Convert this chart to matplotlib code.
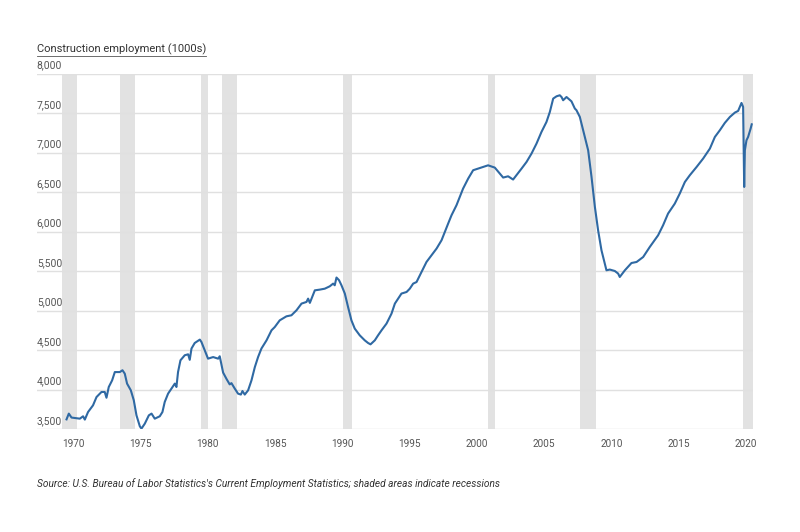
import matplotlib
matplotlib.use('Agg')
from matplotlib import pyplot as plt
from matplotlib import transforms
from matplotlib.lines import Line2D

plt.rcParams['font.family'] = ['Roboto', 'DejaVu Sans']

# construction employment, thousands
years = [1969.87, 1970.04, 1970.24, 1970.86, 1971.10, 1971.23, 1971.47, 1971.84,
         1972.10, 1972.47, 1972.71, 1972.84, 1973.01, 1973.26, 1973.46, 1973.83,
         1974.03, 1974.20, 1974.37, 1974.65, 1974.87, 1975.07, 1975.32, 1975.44,
         1975.69, 1975.99, 1976.19, 1976.43, 1976.80, 1977.00, 1977.17, 1977.42,
         1977.75, 1977.92, 1978.04, 1978.16, 1978.34, 1978.66, 1978.91, 1979.03,
         1979.16, 1979.40, 1979.78, 1979.90, 1980.15, 1980.39, 1980.77, 1981.14,
         1981.26, 1981.51, 1981.76, 1982.00, 1982.13, 1982.38, 1982.62, 1982.83,
         1982.95, 1983.12, 1983.37, 1983.62, 1983.87, 1984.11, 1984.36, 1984.74,
         1985.11, 1985.35, 1985.72, 1986.22, 1986.59, 1986.97, 1987.34, 1987.71,
         1987.83, 1987.96, 1988.33, 1988.70, 1989.07, 1989.44, 1989.69, 1989.81,
         1989.94, 1990.13, 1990.31, 1990.56, 1990.80, 1991.05, 1991.30, 1991.67,
         1992.04, 1992.29, 1992.47, 1992.79, 1993.03, 1993.29, 1993.66, 1994.03,
         1994.28, 1994.77, 1995.15, 1995.39, 1995.64, 1995.89, 1996.26, 1996.63,
         1997.00, 1997.38, 1997.75, 1997.99, 1998.24, 1998.49, 1998.86, 1999.11,
         1999.35, 1999.73, 2000.10, 2000.47, 2000.84, 2001.21, 2001.71, 2002.08,
         2002.33, 2002.70, 2003.07, 2003.32, 2003.70, 2004.07, 2004.44, 2004.81,
         2005.18, 2005.55, 2005.80, 2006.05, 2006.30, 2006.54, 2006.67, 2006.79,
         2007.04, 2007.41, 2007.66, 2007.78, 2008.03, 2008.28, 2008.65, 2008.90,
         2009.15, 2009.39, 2009.64, 2009.89, 2010.01, 2010.26, 2010.63, 2010.88,
         2011.00, 2011.38, 2011.87, 2012.25, 2012.74, 2013.23, 2013.85, 2014.22,
         2014.59, 2015.09, 2015.46, 2015.84, 2016.21, 2016.71, 2017.20, 2017.70,
         2018.07, 2018.44, 2018.81, 2019.19, 2019.56, 2019.80, 2020.05, 2020.17,
         2020.25, 2020.30, 2020.42, 2020.54, 2020.72, 2020.81]
employment = [3626, 3699, 3649, 3635, 3665, 3623, 3719, 3804,
              3909, 3973, 3973, 3900, 4036, 4120, 4225, 4225,
              4248, 4205, 4079, 3994, 3868, 3677, 3538, 3509,
              3572, 3677, 3699, 3635, 3665, 3719, 3846, 3952,
              4036, 4079, 4036, 4225, 4374, 4438, 4450, 4380,
              4523, 4593, 4636, 4606, 4500, 4395, 4415, 4395,
              4425, 4219, 4139, 4069, 4085, 4015, 3952, 3940,
              3985, 3940, 3994, 4120, 4288, 4415, 4523, 4627,
              4754, 4795, 4880, 4931, 4944, 5008, 5092, 5113,
              5155, 5101, 5260, 5269, 5281, 5311, 5345, 5324,
              5422, 5388, 5324, 5219, 5049, 4880, 4775, 4690,
              4627, 4593, 4576, 4627, 4690, 4754, 4839, 4965,
              5092, 5219, 5239, 5281, 5345, 5365, 5493, 5619,
              5704, 5789, 5894, 5999, 6105, 6210, 6337, 6443,
              6548, 6675, 6781, 6802, 6823, 6843, 6814, 6738,
              6688, 6704, 6663, 6718, 6802, 6886, 6992, 7118,
              7266, 7392, 7518, 7688, 7717, 7730, 7708, 7667,
              7708, 7653, 7562, 7541, 7456, 7287, 7033, 6696,
              6316, 6020, 5767, 5599, 5514, 5523, 5505, 5472,
              5429, 5514, 5606, 5619, 5682, 5809, 5957, 6084,
              6232, 6358, 6485, 6632, 6718, 6822, 6929, 7055,
              7202, 7287, 7380, 7456, 7511, 7532, 7633, 7582,
              6569, 7033, 7160, 7202, 7303, 7362]

rec_start = [1969.5, 1973.83, 1979.9, 1981.45, 1990.43, 2001.17, 2008.03, 2020.15]
rec_end = [1970.65, 1974.97, 1980.39, 1982.55, 1991.06, 2001.76, 2009.27, 2020.89]

x_ticks = [1970, 1975, 1980, 1985, 1990, 1995, 2000, 2005, 2010, 2015, 2020]
y_ticks = [3500, 4000, 4500, 5000, 5500, 6000, 6500, 7000, 7500, 8000]

fig = plt.figure(figsize=(8, 5.32), dpi=100)
ax = fig.add_axes([0.046, 0.193, 0.895, 0.668])

for s, e in zip(rec_start, rec_end):
    ax.axvspan(s, e, color='#e2e2e2', lw=0, zorder=0)

for v in y_ticks:
    ax.axhline(v, color='#e0e0e0', lw=1, zorder=1)

ax.plot(years, employment, color='#2f69a3', lw=1.5, zorder=3,
        solid_joinstyle='round')

ax.set_xlim(1967.66, 2020.89)
ax.set_ylim(3500, 8000)
for sp in ax.spines.values():
    sp.set_visible(False)

ax.set_yticks([])
ax.set_xticks(x_ticks)
ax.set_xticklabels([str(t) for t in x_ticks], fontsize=7.2, color='#555555')
ax.tick_params(axis='x', length=0, pad=7)
shift = transforms.ScaledTranslation(5 / 100, 0, fig.dpi_scale_trans)
for lbl in ax.get_xticklabels():
    lbl.set_transform(lbl.get_transform() + shift)

trans = transforms.blended_transform_factory(ax.transAxes, ax.transData)
for v in y_ticks:
    ax.text(0, v + 45, f'{v:,}', transform=trans, ha='left', va='bottom',
            fontsize=7.4, color='#555555', zorder=4)

title = fig.text(0.046, 1 - 52 / 532, 'Construction employment (1000s)',
                 fontsize=8, color='#333333', ha='left', va='baseline')
fig.text(0.046, 1 - 487 / 532,
         "Source: U.S. Bureau of Labor Statistics's Current Employment Statistics; "
         "shaded areas indicate recessions",
         fontsize=7.3, color='#333333', style='italic', ha='left', va='baseline')

fig.canvas.draw()
bb = title.get_window_extent()
uy = bb.y0 - 1
fig.add_artist(Line2D([bb.x0 / fig.bbox.width, bb.x1 / fig.bbox.width],
                      [uy / fig.bbox.height, uy / fig.bbox.height],
                      transform=fig.transFigure, color='#555555', lw=0.6))

fig.savefig('out.png', dpi=100)
